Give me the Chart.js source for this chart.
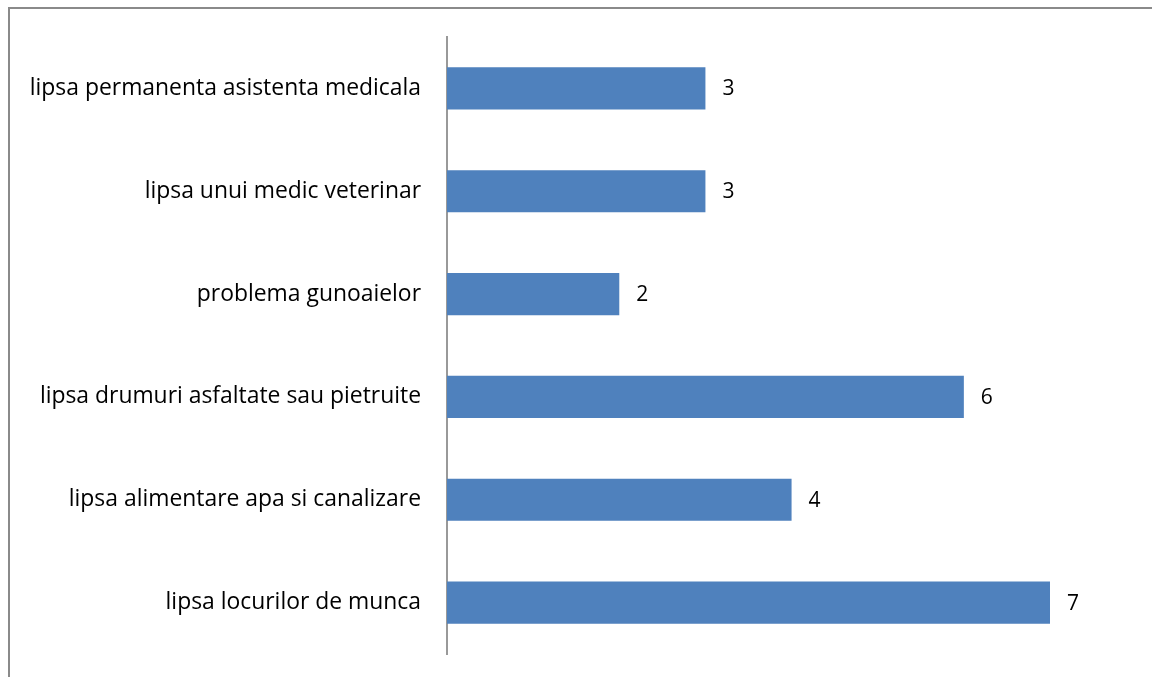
<!DOCTYPE html>
<html>
<head>
<meta charset="utf-8">
<script src="https://cdn.jsdelivr.net/npm/chart.js@4/dist/chart.umd.min.js"></script>
<style>
    html, body { margin: 0; padding: 0; background: #fff; overflow: hidden; }
    #wrap { position: relative; width: 1152px; height: 677px; overflow: hidden; }
    #frame { position: absolute; left: 8px; top: 7px; width: 1200px; height: 700px; border-left: 2px solid #8a8a8a; border-top: 2px solid #8a8a8a; box-sizing: border-box; }
    #chart { position: absolute; left: 0; top: 0; }
</style>
</head>
<body>
<div id="wrap">
    <div id="frame"></div>
    <canvas id="chart" width="1152" height="677"></canvas>
</div>
<script>
const categories = [
    "lipsa permanenta asistenta medicala",
    "lipsa unui medic veterinar",
    "problema gunoaielor",
    "lipsa drumuri asfaltate sau pietruite",
    "lipsa alimentare apa si canalizare",
    "lipsa locurilor de munca"
];
const counts = [3, 3, 2, 6, 4, 7];
const barColor = "#4f81bd";
const fontFamily = "'Open Sans', 'Noto Sans', sans-serif";

// Draw value labels to the right of each bar
const valueLabels = {
    id: "valueLabels",
    afterDatasetsDraw(chart) {
        const ctx = chart.ctx;
        const meta = chart.getDatasetMeta(0);
        ctx.save();
        ctx.font = "21px " + fontFamily;
        ctx.fillStyle = "#000";
        ctx.textAlign = "left";
        ctx.textBaseline = "middle";
        meta.data.forEach((bar, i) => {
            ctx.fillText(String(counts[i]), bar.x + 17, bar.y + 1);
        });
        ctx.restore();
    }
};

new Chart(document.getElementById("chart"), {
    type: "bar",
    data: {
        labels: categories,
        datasets: [{
            data: counts,
            backgroundColor: barColor,
            borderWidth: 0,
            categoryPercentage: 1,
            barPercentage: 0.41
        }]
    },
    options: {
        indexAxis: "y",
        responsive: false,
        animation: false,
        layout: { padding: { top: 37, bottom: 23, right: 102, left: 0 } },
        plugins: { legend: { display: false }, tooltip: { enabled: false } },
        scales: {
            x: { display: false, min: 0, max: 7 },
            y: {
                afterFit(scale) {
                    scale.width = 447;
                    scale.paddingTop = 0;
                    scale.paddingBottom = 0;
                },
                grid: { display: false, drawTicks: false },
                border: { display: true, color: "#999", width: 2 },
                ticks: {
                    padding: 26,
                    color: "#000",
                    font: { family: fontFamily, size: 22.9 }
                }
            }
        }
    },
    plugins: [valueLabels]
});
</script>
</body>
</html>
